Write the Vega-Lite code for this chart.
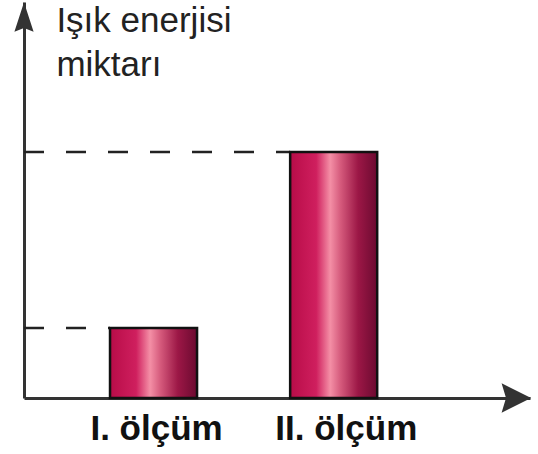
{
  "$schema": "https://vega.github.io/schema/vega-lite/v6.json",
  "width": 506,
  "height": 396,
  "autosize": {"type": "none"},
  "padding": {"left": 24, "top": 2, "right": 8, "bottom": 56},
  "config": {"view": {"stroke": null}},
  "datasets": {
    "bars": [
      {"olcum": "I. ölçüm", "base": 0, "start": 1.70, "end": 3.42, "value": 1.77},
      {"olcum": "II. ölçüm", "base": 0, "start": 5.26, "end": 6.98, "value": 6.21}
    ],
    "title": [
      {"line": "Işık enerjisi", "tx": 0.64, "ty": 9.24},
      {"line": "miktarı", "tx": 0.64, "ty": 8.13}
    ],
    "arrows": [
      {"ax": 9.73, "ay": 0, "dir": "right"},
      {"ax": 0, "ay": 9.62, "dir": "up"}
    ]
  },
  "layer": [
    {
      "data": {"name": "bars"},
      "mark": {"type": "rule", "strokeDash": [20, 22], "strokeWidth": 2.5, "color": "#222222"},
      "encoding": {
        "x": {"field": "base", "type": "quantitative",
              "scale": {"domain": [0, 10], "nice": false, "zero": false},
              "axis": {"values": [2.61, 6.36], "labelExpr": "datum.value < 4 ? 'I. ölçüm' : 'II. ölçüm'", "ticks": false, "grid": false, "title": null, "domainWidth": 3, "domainColor": "#333333", "labelFont": "Liberation Sans", "labelFontSize": 35, "labelFontWeight": "bold", "labelColor": "#111111", "labelPadding": 13, "labelFlush": false, "labelOverlap": false}},
        "x2": {"field": "start"},
        "y": {"field": "value", "type": "quantitative",
              "scale": {"domain": [0, 10], "nice": false, "zero": false},
              "axis": {"values": [], "ticks": false, "grid": false, "labels": false, "title": null, "domainWidth": 3, "domainColor": "#333333"}}
      }
    },
    {
      "data": {"name": "bars"},
      "mark": {
        "type": "bar",
        "stroke": "#111111",
        "strokeWidth": 2.5,
        "fill": {
          "gradient": "linear", "x1": 0, "y1": 0, "x2": 1, "y2": 0,
          "stops": [
            {"offset": 0, "color": "#b80c48"},
            {"offset": 0.3, "color": "#cf1f5e"},
            {"offset": 0.46, "color": "#f48fa6"},
            {"offset": 0.58, "color": "#d55a7c"},
            {"offset": 0.78, "color": "#9c1746"},
            {"offset": 1, "color": "#6b0a30"}
          ]
        }
      },
      "encoding": {
        "x": {"field": "start", "type": "quantitative"},
        "x2": {"field": "end"},
        "y": {"field": "value", "type": "quantitative"},
        "y2": {"field": "base"}
      }
    },
    {
      "data": {"name": "arrows"},
      "mark": {"type": "point", "filled": true, "opacity": 1, "size": 870},
      "encoding": {
        "x": {"field": "ax", "type": "quantitative"},
        "y": {"field": "ay", "type": "quantitative"},
        "shape": {"field": "dir", "type": "nominal", "legend": null,
                  "scale": {"domain": ["right", "up"], "range": ["M -1 -1 L 1 0 L -1 1 L -0.7 0 Z", "M -0.65 1 L 0 -1 L 0.65 1 L 0 0.75 Z"]}},
        "color": {"value": "#333333"}
      }
    },
    {
      "data": {"name": "title"},
      "mark": {"type": "text", "font": "Liberation Sans", "fontSize": 35, "color": "#222222", "align": "left", "baseline": "alphabetic"},
      "encoding": {
        "x": {"field": "tx", "type": "quantitative"},
        "y": {"field": "ty", "type": "quantitative"},
        "text": {"field": "line"}
      }
    }
  ]
}
